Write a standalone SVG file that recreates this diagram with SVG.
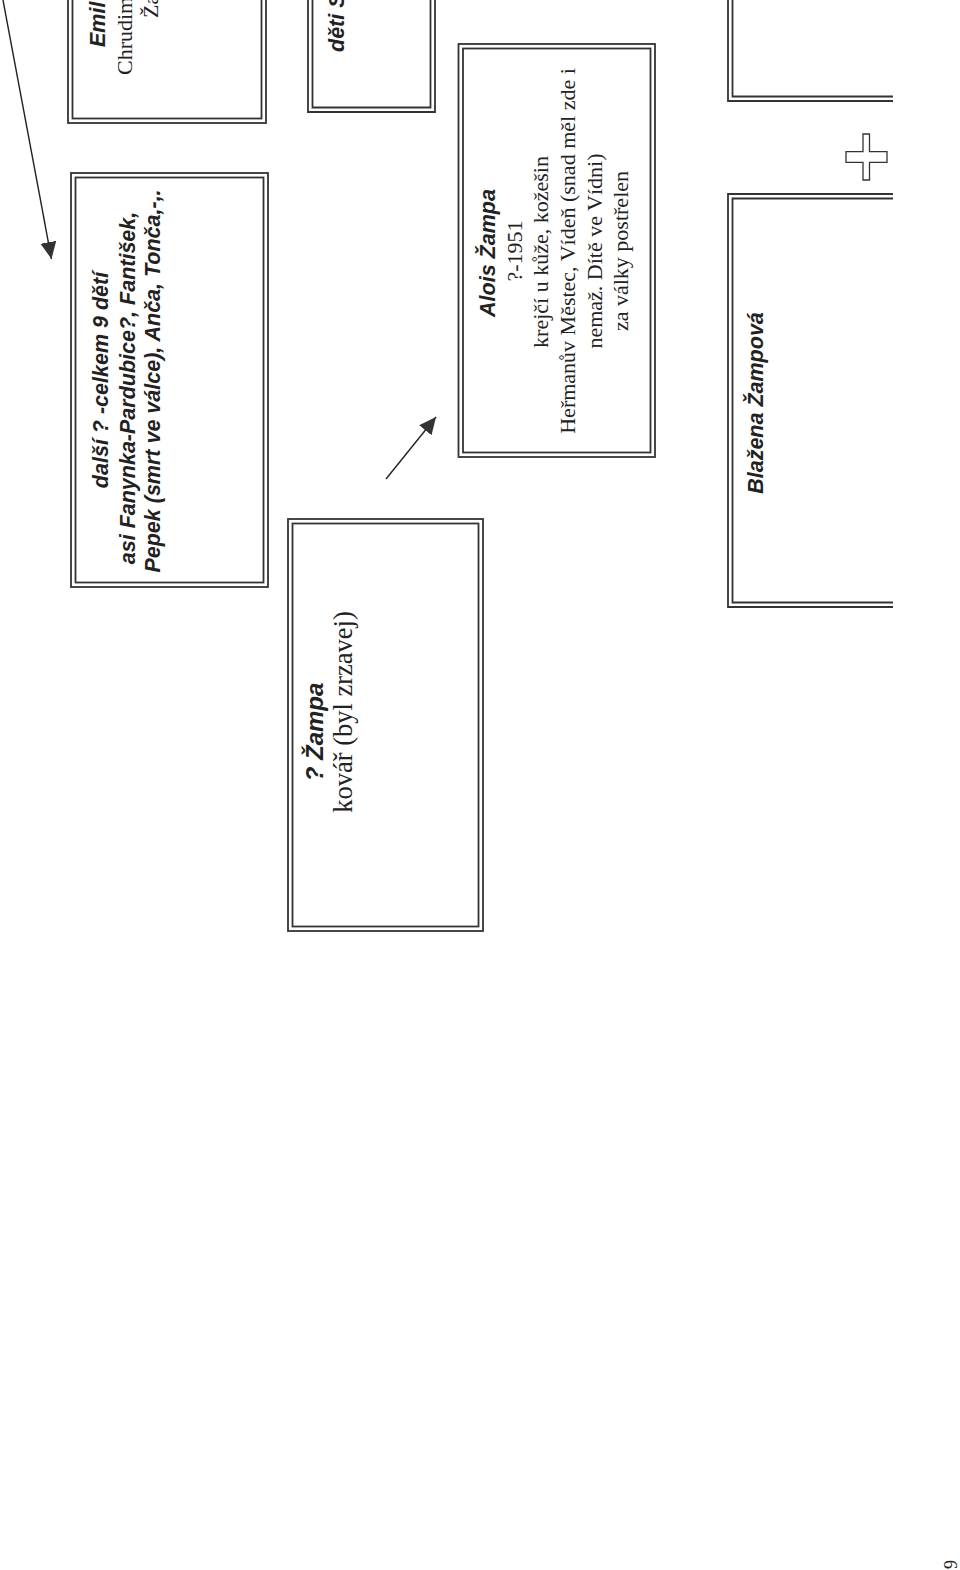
<svg xmlns="http://www.w3.org/2000/svg" width="960" height="1570" viewBox="0 0 960 1570">
<defs>
<style>
.b{font-family:"Liberation Sans",Arial,sans-serif;font-weight:bold;font-style:italic;font-size:21.5px;fill:#222}
.s{font-family:"Liberation Serif","Times New Roman",serif;font-size:22px;fill:#222}
.f{fill:none;stroke:#333;stroke-width:1.8}
.c{text-anchor:middle}
.ln{fill:none;stroke:#222;stroke-width:1.4}
</style>
<marker id="ah" markerWidth="18" markerHeight="18" viewBox="0 0 18 18" refX="17" refY="9" orient="auto" markerUnits="userSpaceOnUse">
<path d="M0,1 L17,9 L0,17 Z" fill="#333"/>
</marker>
</defs>
<rect width="960" height="1570" fill="#fff"/>

<g id="connectors">
<line class="ln" x1="3" y1="0" x2="51.5" y2="259" marker-end="url(#ah)"/>
<line class="ln" x1="386" y1="479" x2="436" y2="417" marker-end="url(#ah)"/>
</g>

<g id="node-emil">
<rect class="f" x="68" y="-10" width="198" height="133"/>
<rect class="f" x="72.5" y="-10" width="189" height="128.5"/>
<text class="b" transform="translate(105,47) rotate(-90)">Emil</text>
<text class="s" transform="translate(132,75) rotate(-90)">Chrudim</text>
<text class="s" transform="translate(158,18) rotate(-90)">Ža</text>
</g>

<g id="node-deti">
<path class="f" d="M308,-5 V112 H435 V-5"/>
<path class="f" d="M312.5,-5 V107.5 H430.5 V-5"/>
<text class="b" transform="translate(344,52) rotate(-90)">děti S</text>
</g>

<g id="node-dalsi">
<rect class="f" x="71" y="173" width="197" height="414"/>
<rect class="f" x="75.5" y="177.5" width="188" height="405"/>
<text class="b c" transform="translate(108,380) rotate(-90)">další ? -celkem 9 dětí</text>
<text class="b c" transform="translate(135,388) rotate(-90)">asi Fanynka-Pardubice?, Fantišek,</text>
<text class="b c" transform="translate(160,381) rotate(-90)">Pepek (smrt ve válce), Anča, Tonča,-,.</text>
</g>

<g id="node-zampa">
<rect class="f" x="288" y="519" width="195" height="412"/>
<rect class="f" x="292.5" y="523.5" width="186" height="403"/>
<text class="b c" style="font-size:24px" transform="translate(323,732) rotate(-90)">? Žampa</text>
<text class="s c" style="font-size:26.5px" transform="translate(352,712) rotate(-90)">kovář (byl zrzavej)</text>
</g>

<g id="node-alois">
<rect class="f" x="458.5" y="44" width="196.5" height="413"/>
<rect class="f" x="463" y="48.5" width="187.5" height="404"/>
<text class="b c" transform="translate(495,253) rotate(-90)">Alois Žampa</text>
<text class="s c" transform="translate(522,251) rotate(-90)">?-1951</text>
<text class="s c" transform="translate(548,252) rotate(-90)">krejčí u kůže, kožešin</text>
<text class="s c" transform="translate(575,251) rotate(-90)">Heřmanův Městec, Vídeň (snad měl zde i</text>
<text class="s c" transform="translate(602,251) rotate(-90)">nemaž. Dítě ve Vídni)</text>
<text class="s c" transform="translate(628,251) rotate(-90)">za války postřelen</text>
</g>

<g id="node-top-right">
<path class="f" d="M728,0 V101 H893"/>
<path class="f" d="M732.5,0 V96.5 H893"/>
</g>

<g id="plus">
<path d="M863,134 H869.5 V151.7 H887 V162.3 H869.5 V180 H863 V162.3 H846 V151.7 H863 Z" fill="#fff" stroke="#333" stroke-width="1.3"/>
</g>

<g id="node-blazena">
<path class="f" d="M893,194 H728 V607 H893"/>
<path class="f" d="M893,198.5 H732.5 V602.5 H893"/>
<text class="b c" transform="translate(763,403) rotate(-90)">Blažena Žampová</text>
</g>

<text class="s" style="font-size:18px" transform="translate(957,1569) rotate(-90)">9</text>
</svg>
